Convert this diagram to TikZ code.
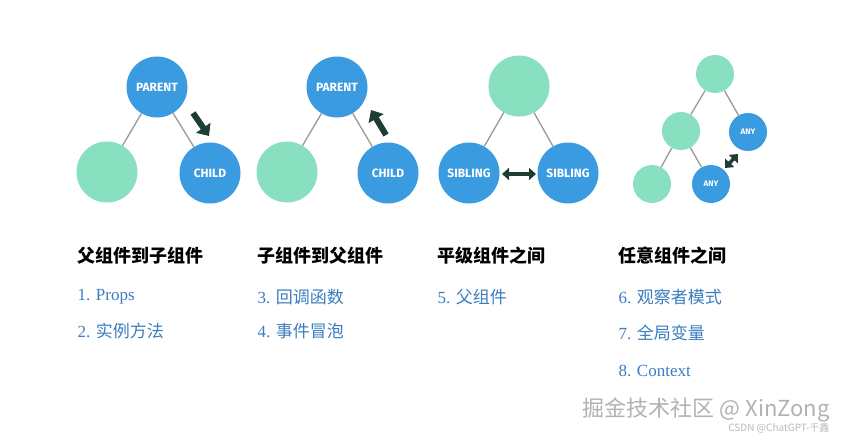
\documentclass[tikz,border=0pt]{standalone}
\usepackage{fontspec}
\setmainfont{Liberation Serif}
\newfontfamily\cjk{Noto Sans CJK SC}
\newfontfamily\lab{Fira Sans}
\usetikzlibrary{arrows.meta}
\definecolor{cblue}{HTML}{3A9BE0}
\definecolor{cgreen}{HTML}{88E0C0}
\definecolor{cdark}{HTML}{1E3D35}
\definecolor{ctext}{HTML}{3B7DC0}
\begin{document}
\begin{tikzpicture}[x=1pt,y=-1pt,
  big/.style={circle,minimum size=61pt,inner sep=0pt},
  small/.style={circle,minimum size=38pt,inner sep=0pt},
  bl/.style={fill=cblue,text=white,font=\lab\bfseries\fontsize{12}{12}\selectfont},
  bls/.style={fill=cblue,text=white,font=\lab\bfseries\fontsize{8}{8}\selectfont},
  gr/.style={fill=cgreen},
  edge/.style={draw=gray!80,line width=1.3pt},
  fat/.style={draw=cdark,line width=6pt,-{Triangle[length=10pt,width=17pt]}},
  fat2/.style={draw=cdark,line width=3.5pt,{Triangle[length=7pt,width=12pt]}-{Triangle[length=7pt,width=12pt]}},
  head/.style={anchor=west,font=\cjk\bfseries\fontsize{18}{18}\selectfont},
  item/.style={anchor=west,text=ctext,font=\fontsize{17}{17}\selectfont}]
\useasboundingbox[fill=white] (0,0) rectangle (847,442);
% group 1
\node[big,bl] (p1) at (157,87) {PARENT};
\node[big,gr] (g1) at (107,172) {};
\node[big,bl] (c1) at (210,173) {CHILD};
\draw[edge] (p1) -- (g1); \draw[edge] (p1) -- (c1);
\coordinate (a1s) at (193,113); \coordinate (a1e) at (209,136);
\draw[fat] (a1s) -- (a1e);
% group 2
\node[big,bl] (p2) at (337,87) {PARENT};
\node[big,gr] (g2) at (287,172) {};
\node[big,bl] (c2) at (388,173) {CHILD};
\draw[edge] (p2) -- (g2); \draw[edge] (p2) -- (c2);
\coordinate (a2s) at (386,135); \coordinate (a2e) at (371,110);
\draw[fat] (a2s) -- (a2e);
% group 3
\node[big,gr] (p3) at (519,86) {};
\node[big,bl] (s1) at (469,173) {SIBLING};
\node[big,bl] (s2) at (568,173) {SIBLING};
\draw[edge] (p3) -- (s1); \draw[edge] (p3) -- (s2);
\coordinate (b3s) at (502,174); \coordinate (b3e) at (536,174);
\draw[fat2] (b3s) -- (b3e);
% group 4
\node[small,gr] (t4) at (715,74) {};
\node[small,gr] (m4) at (681,131) {};
\node[small,bls] (a4) at (748,132) {ANY};
\node[small,gr] (b4) at (652,184) {};
\node[small,bls] (n4) at (711,184) {ANY};
\draw[edge] (t4) -- (m4); \draw[edge] (t4) -- (a4);
\draw[edge] (m4) -- (b4); \draw[edge] (m4) -- (n4);
\coordinate (d1) at (725,168); \coordinate (d2) at (738,154);
\draw[fat2] (d1) -- (d2);
% texts
\node[head] (h1) at (74,256) {父组件到子组件};
\node[head] (h2) at (254,256) {子组件到父组件};
\node[head] (h3) at (434,256) {平级组件之间};
\node[head] (h4) at (615,256) {任意组件之间};
\node[item] (i1) at (74,297) {1. Props};
\node[item] (i2) at (74,331) {2. {\cjk 实例方法}};
\node[item] (i3) at (254,297) {3. {\cjk 回调函数}};
\node[item] (i4) at (254,331) {4. {\cjk 事件冒泡}};
\node[item] (i5) at (434,297) {5. {\cjk 父组件}};
\node[item] (i6) at (615,297) {6. {\cjk 观察者模式}};
\node[item] (i7) at (615,333) {7. {\cjk 全局变量}};
\node[item] (i8) at (615,371) {8. Context};
\node[anchor=east,text=gray!60,font=\cjk\fontsize{22}{22}\selectfont] (w1) at (833,410) {掘金技术社区 @ XinZong};
\node[anchor=east,text=gray!55,font=\cjk\fontsize{10}{10}\selectfont] (w2) at (833,428) {CSDN @ChatGPT-千鑫};
\end{tikzpicture}
\end{document}
